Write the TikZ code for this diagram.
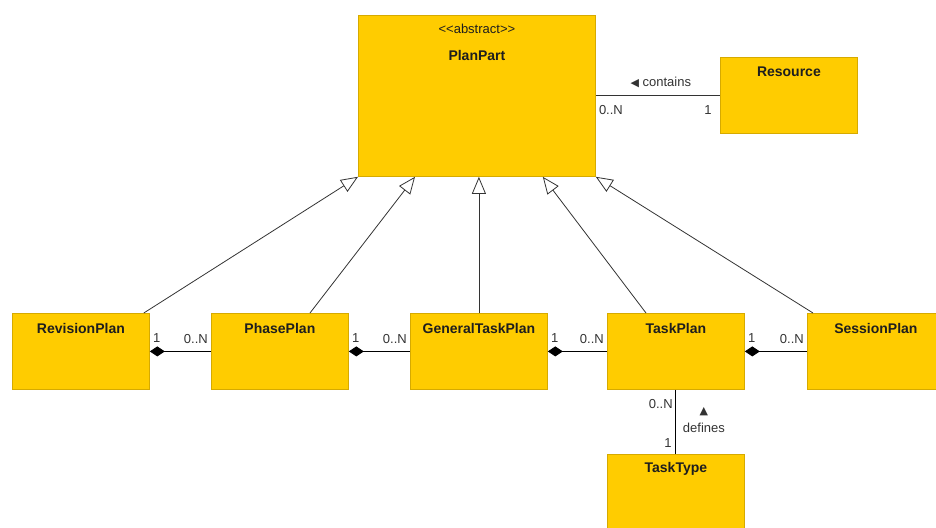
\documentclass[tikz,border=0pt]{standalone}
\usepackage{fontspec}
\setmainfont{Liberation Sans}
\newfontfamily\symfont{DejaVu Sans}
\usetikzlibrary{arrows.meta}

\definecolor{classfill}{HTML}{FFCC00}
\definecolor{classedge}{HTML}{D6AA00}
\definecolor{ink}{HTML}{1E1E1E}
\definecolor{wire}{HTML}{333333}

\tikzset{
  umlclass/.style={draw=classedge, fill=classfill, line width=0.8pt,
    minimum width=137pt, minimum height=76pt, anchor=north west, inner sep=0pt},
  titlefont/.style={font=\bfseries\fontsize{14}{16}\selectfont, text=ink},
  classname/.style={label={[titlefont, anchor=center, yshift=-15pt]north:#1}},
  mult/.style={font=\fontsize{13}{15}\selectfont, text=wire, inner sep=0pt},
  generalise/.style={draw=wire, line width=0.8pt,
    -{Triangle[length=17pt, width=14pt, fill=white, line width=0.8pt]}},
  compose/.style={draw=black, line width=0.9pt,
    {Diamond[length=15pt, width=10pt, fill=black]}-},
  assoc/.style={draw=wire, line width=0.9pt},
}

\begin{document}
\begin{tikzpicture}[x=1pt, y=-1pt]
  \useasboundingbox (0,0) rectangle (936,527);
  \clip (0,0) rectangle (936,527);

  % classes
  \node[umlclass, minimum width=237pt, minimum height=161pt,
    label={[font=\fontsize{13}{15}\selectfont, text=ink, anchor=center, yshift=-14pt]north:{{<}{<}abstract{>}{>}}},
    label={[titlefont, anchor=center, yshift=-40pt]north:PlanPart}]
    (plan) at (358,15) {};
  \node[umlclass, classname=Resource] (res) at (720,57) {};
  \node[umlclass, classname=RevisionPlan] (rev) at (12,313) {};
  \node[umlclass, classname=PhasePlan] (phase) at (211,313) {};
  \node[umlclass, classname=GeneralTaskPlan] (gtp) at (410,313) {};
  \node[umlclass, classname=TaskPlan] (task) at (607,313) {};
  \node[umlclass, classname=SessionPlan] (sess) at (807,313) {};
  \node[umlclass, classname=TaskType] (ttype) at (607,454) {};

  % generalisations towards PlanPart
  \draw[generalise] ([xshift=-6pt]rev.north east) -- (plan.south west);
  \draw[generalise] ([xshift=99pt]phase.north west) -- ([xshift=57pt]plan.south west);
  \draw[generalise] (gtp.north) -- (gtp.north |- plan.south);
  \draw[generalise] ([xshift=39pt]task.north west) -- ([xshift=-53pt]plan.south east);
  \draw[generalise] ([xshift=6pt]sess.north west) -- (plan.south east);

  % PlanPart contains Resource
  \draw[assoc] (res.west -| plan.east) coordinate (pe) -- (res.west);
  \node[mult, anchor=center] (containslbl) at ([shift={(65,-13)}]pe)
    {{\symfont\fontsize{11}{12}\selectfont ◀} contains};
  \node[mult, anchor=west] (resmany) at ([shift={(3,15)}]pe) {0..N};
  \node[mult, anchor=center] (resone) at ([shift={(-12,15)}]res.west) {1};

  % compositions along the lower row
  \draw[compose] (rev.east) -- (phase.west);
  \node[mult, anchor=center] (m1a) at ([shift={(7,-13)}]rev.east) {1};
  \node[mult, anchor=east] (m1b) at ([shift={(-3,-12)}]phase.west) {0..N};

  \draw[compose] (phase.east) -- (gtp.west);
  \node[mult, anchor=center] (m2a) at ([shift={(7,-13)}]phase.east) {1};
  \node[mult, anchor=east] (m2b) at ([shift={(-3,-12)}]gtp.west) {0..N};

  \draw[compose] (gtp.east) -- (task.west);
  \node[mult, anchor=center] (m3a) at ([shift={(7,-13)}]gtp.east) {1};
  \node[mult, anchor=east] (m3b) at ([shift={(-3,-12)}]task.west) {0..N};

  \draw[compose] (task.east) -- (sess.west);
  \node[mult, anchor=center] (m4a) at ([shift={(7,-13)}]task.east) {1};
  \node[mult, anchor=east] (m4b) at ([shift={(-3,-12)}]sess.west) {0..N};

  % TaskPlan defines TaskType
  \draw[assoc, draw=black] (task.south) -- (ttype.north);
  \node[mult, anchor=east] (defmany) at ([shift={(-3,14)}]task.south) {0..N};
  \node[mult, anchor=east] (defone) at ([shift={(-4,-11)}]ttype.north) {1};
  \node[mult, anchor=center] (defarrow) at ([shift={(28,-42)}]ttype.north)
    {\symfont\fontsize{11}{12}\selectfont ▲};
  \node[mult, anchor=center] (deflbl) at ([shift={(28,-26)}]ttype.north) {defines};
\end{tikzpicture}
\end{document}
